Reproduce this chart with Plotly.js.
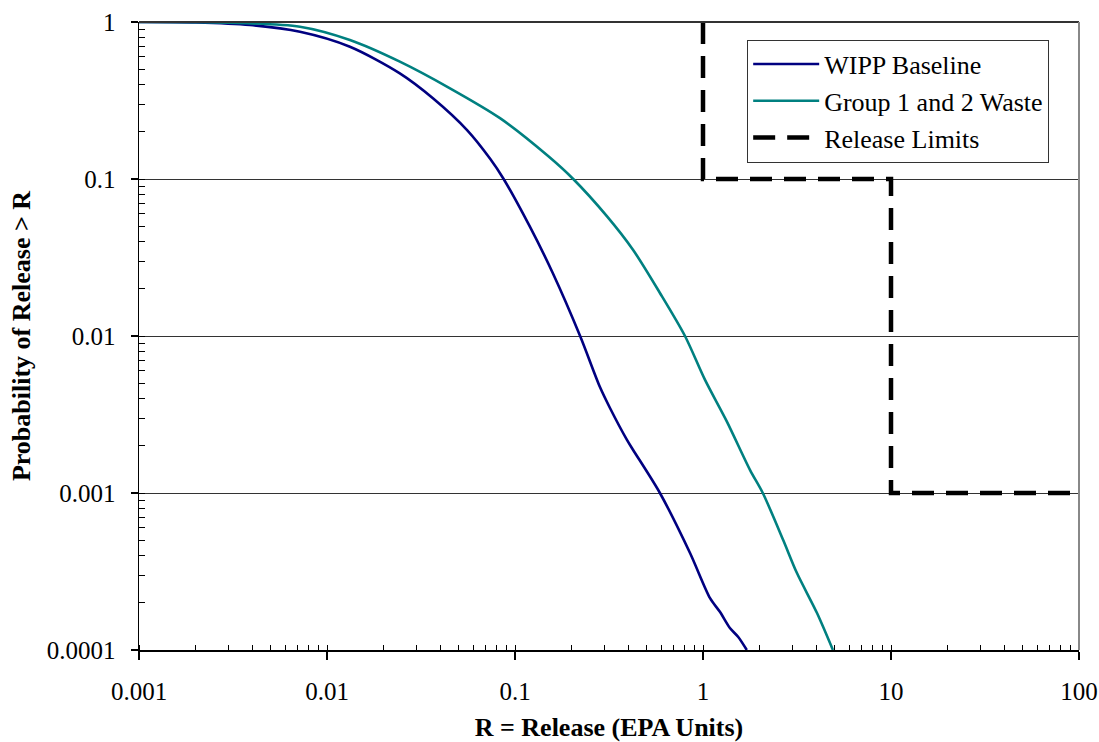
<!DOCTYPE html>
<html>
<head>
<meta charset="utf-8">
<script src="https://cdn.plot.ly/plotly-3.0.1.min.js"></script>
<style>html,body{margin:0;padding:0;background:#fff;}#chart{width:1099px;height:742px;}</style>
</head>
<body>
<div id="chart"></div>
<script>
// Data
const wippX = [0.001, 0.002, 0.00389, 0.00718, 0.01324, 0.0244, 0.0366, 0.0556, 0.0736, 0.087, 0.12, 0.159, 0.222, 0.283, 0.32, 0.394, 0.425, 0.59, 0.853, 1.09, 1.23, 1.39, 1.54, 1.71];
const wippY = [1.0, 0.993, 0.957, 0.867, 0.696, 0.471, 0.327, 0.205, 0.135, 0.100, 0.0497, 0.0251, 0.0100, 0.00473, 0.00348, 0.00218, 0.00188, 0.00100, 0.000415, 0.000214, 0.000175, 0.000138, 0.000121, 0.0001];

const groupX = [0.001, 0.003, 0.00718, 0.01324, 0.0244, 0.0451, 0.0832, 0.15, 0.204, 0.308, 0.425, 0.59, 0.802, 1.025, 1.34, 1.78, 2.08, 2.67, 3.16, 4.04, 4.91];
const groupY = [1.0, 0.99, 0.933, 0.768, 0.559, 0.378, 0.244, 0.14, 0.100, 0.058, 0.0353, 0.0188, 0.0100, 0.00525, 0.00285, 0.0014, 0.0010, 0.000502, 0.000309, 0.000172, 0.0001];

const limitX = [1, 1, 10, 10, 100];
const limitY = [1, 0.1, 0.1, 0.001, 0.001];

const xTickVals = [0.001, 0.01, 0.1, 1, 10, 100];
const xTickText = ['0.001', '0.01', '0.1', '1', '10', '100'];
const yTickVals = [0.0001, 0.001, 0.01, 0.1, 1];
const yTickText = ['0.0001', '0.001', '0.01', '0.1', '1'];

const FONT = '"Liberation Serif", "Times New Roman", serif';

const traces = [
  {x: wippX, y: wippY, type: 'scatter', mode: 'lines', name: 'WIPP Baseline',
   line: {color: '#000080', width: 2.6, shape: 'spline', smoothing: 0.8}},
  {x: groupX, y: groupY, type: 'scatter', mode: 'lines', name: 'Group 1 and 2 Waste',
   line: {color: '#008080', width: 2.6, shape: 'spline', smoothing: 0.8}},
  {x: limitX, y: limitY, type: 'scatter', mode: 'lines', name: 'Release Limits',
   line: {color: '#000000', width: 4.5, dash: '22px,12px'}}
];

const layout = {
  width: 1099, height: 742,
  margin: {l: 139, r: 20, t: 22, b: 92},
  paper_bgcolor: '#fff', plot_bgcolor: '#fff',
  font: {family: FONT, size: 25, color: '#000'},
  showlegend: true,
  legend: {x: 0.647, y: 0.972, xanchor: 'left', yanchor: 'top',
    bordercolor: '#333', borderwidth: 1, bgcolor: '#fff',
    font: {family: FONT, size: 26, color: '#000'}, itemwidth: 66},
  xaxis: {type: 'log', range: [-3, 2], tickvals: xTickVals, ticktext: xTickText,
    ticks: 'outside', ticklen: 8, tickwidth: 1.5, tickcolor: '#000',
    showline: true, linecolor: '#000', linewidth: 1.5, showgrid: false, zeroline: false,
    ticklabelstandoff: 10,
    tickfont: {family: FONT, size: 25, color: '#000'},
    minor: {ticks: 'inside', ticklen: 5, tickcolor: '#000', tickwidth: 1, dtick: 'D1', showgrid: false},
    title: {text: '<b>R = Release (EPA Units)</b>', font: {family: FONT, size: 26, color: '#000'}}},
  yaxis: {type: 'log', range: [-4, 0], tickvals: yTickVals, ticktext: yTickText,
    ticks: 'outside', ticklen: 7, tickwidth: 1.5, tickcolor: '#000',
    showline: true, linecolor: '#000', linewidth: 1.5,
    showgrid: true, gridcolor: '#333', gridwidth: 1, zeroline: false,
    ticklabelstandoff: 10,
    tickfont: {family: FONT, size: 25, color: '#000'},
    minor: {ticks: 'inside', ticklen: 6, tickcolor: '#000', tickwidth: 1, dtick: 'D1', showgrid: false},
    automargin: 'left',
    title: {text: '<b>Probability of Release > R</b>', standoff: 8, font: {family: FONT, size: 26, color: '#000'}}},
  shapes: [
    {type: 'line', xref: 'paper', yref: 'paper', x0: 0, x1: 1, y0: 1, y1: 1, line: {color: '#333', width: 2}},
    {type: 'line', xref: 'paper', yref: 'paper', x0: 1, x1: 1, y0: 0, y1: 1, line: {color: '#888', width: 2}}
  ]
};

Plotly.newPlot('chart', traces, layout, {displayModeBar: false, staticPlot: true});
</script>
</body>
</html>
